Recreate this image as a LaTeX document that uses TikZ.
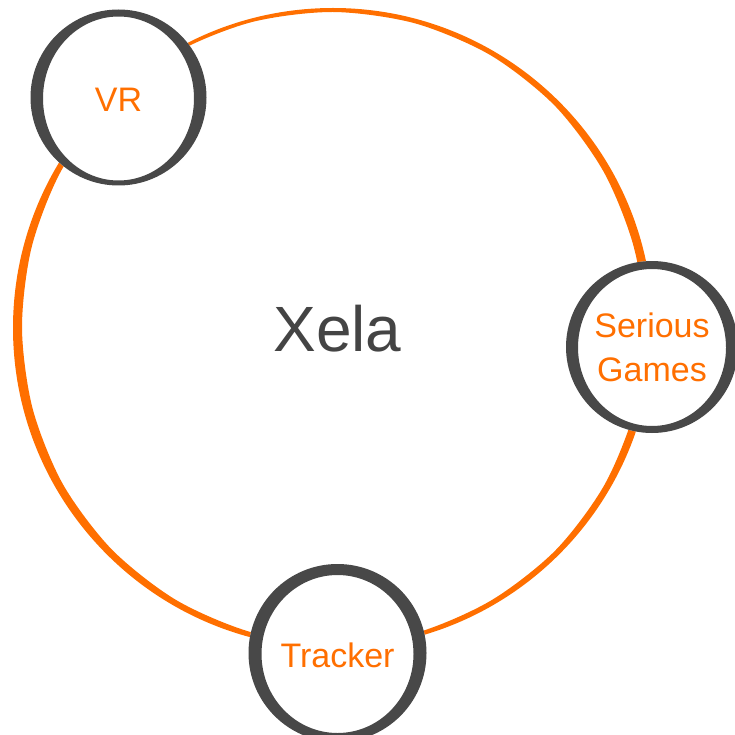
\documentclass[tikz,border=0pt]{standalone}
\usepackage{fontspec}
\setmainfont{Liberation Sans}
\definecolor{ringorange}{RGB}{255,111,0}
\definecolor{ringgray}{RGB}{72,72,72}
\definecolor{textgray}{RGB}{68,68,68}
\tikzset{
  bubble/.style={circle, fill=white, inner sep=0pt, minimum size=#1,
    text=ringorange, font=\fontsize{34}{44}\selectfont, align=center},
  title/.style={text=textgray, inner sep=0pt, font=\fontsize{64}{70}\selectfont}
}
\begin{document}
\begin{tikzpicture}[x=1pt,y=-1pt]
\useasboundingbox (0,0) rectangle (735,735);
% big orange ring with varying stroke width
\begin{scope}[shift={(333,328)}]
\fill[ringorange, even odd rule] (0,0) circle[radius=320]
  plot[smooth cycle] coordinates {
   (0:312) (-15:311.5) (-30:312.5) (-45:314) (-60:315) (-75:315.5)
   (-90:316) (-105:316.5) (-120:317) (-135:316) (-150:314) (-165:312)
   (-180:311) (-195:311) (-210:312) (-225:313) (-240:314) (-255:315)
   (-270:316) (-285:316) (-300:315) (-315:314.5) (-330:313.5) (-345:312.5)};
\end{scope}
\node[title] (xela) at (337.5,329) {Xela};
% satellite nodes
\node[bubble=176pt, text height=28pt] (vr) at (118.5,97.5) {VR};
\node[bubble=172pt] (sg) at (652,347) {Serious\\Games};
\node[bubble=178pt, text height=29pt] (tr) at (337.5,653) {Tracker};
% grey rings (thicker at the sides)
\fill[ringgray, even odd rule] (vr.center) circle[radius=88]
  (vr.center) ++(0,1) ellipse[x radius=75.5, y radius=82];
\fill[ringgray, even odd rule] (sg.center) circle[radius=86]
  (sg.center) ++(0,0.5) ellipse[x radius=74, y radius=78.5];
\fill[ringgray, even odd rule] (tr.center) circle[radius=89]
  (tr.center) ++(0,1) ellipse[x radius=76, y radius=79];
\end{tikzpicture}
\end{document}
